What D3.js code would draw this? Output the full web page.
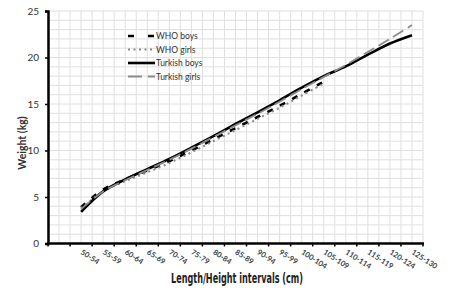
<!DOCTYPE html>
<html>
<head>
<meta charset="utf-8">
<script src="https://cdn.jsdelivr.net/npm/d3@7"></script>
<style>
  body { margin: 0; background: #fff; }
  svg { display: block; }
</style>
</head>
<body>
<svg id="chart"></svg>
<script>
var width = 450;
var height = 293;

// categories (first slot is empty, like the source chart)
var categories = ["", "50-54", "55-59", "60-64", "65-69", "70-74", "75-79", "80-84", "85-89",
  "90-94", "95-99", "100-104", "105-109", "110-114", "115-119", "120-124", "125-130"];

var whoBoys = [3.9, 5.8, 6.9, 7.85, 8.85, 10.0, 11.2, 12.4, 13.6, 14.8, 16.1, 17.4];
var whoGirls = [3.8, 5.6, 6.7, 7.65, 8.65, 9.8, 11.0, 12.2, 13.4, 14.6, 15.9, 17.2];
var turkishBoys = [3.4, 5.6, 6.9, 8.0, 9.1, 10.3, 11.55, 12.85, 14.1, 15.4, 16.75, 18.0, 19.05, 20.3, 21.5, 22.4];
var turkishGirls = [3.7, 5.6, 6.8, 7.9, 9.0, 10.2, 11.45, 12.7, 13.95, 15.25, 16.6, 17.9, 19.2, 20.6, 22.0, 23.5];

var yTicks = [0, 5, 10, 15, 20, 25];

var series = [
  { name: "WHO boys", values: whoBoys, color: "#000", width: 2.6, dash: "6,8" },
  { name: "WHO girls", values: whoGirls, color: "#8a8a8a", width: 2, dash: "2,3.5" },
  { name: "Turkish boys", values: turkishBoys, color: "#000", width: 2.6, dash: null },
  { name: "Turkish girls", values: turkishGirls, color: "#8c8c8c", width: 1.8, dash: "12,5" }
];

var svg = d3.select("#chart").attr("width", width).attr("height", height);

var x = d3.scaleBand().domain(categories).range([48, 423]).padding(0);
var y = d3.scaleLinear().domain([0, 25]).range([243.5, 11]);
var bw = x.bandwidth();

// grid
var grid = svg.append("g").attr("class", "grid");
var vx = [];
categories.forEach(function(c) { vx.push(x(c)); vx.push(x(c) + bw / 2); });
vx.push(423);
grid.selectAll(".vg").data(vx).enter().append("line")
  .attr("x1", function(d) { return d; }).attr("x2", function(d) { return d; })
  .attr("y1", y(25)).attr("y2", y(0))
  .attr("stroke", "#e0e0e0").attr("stroke-width", 1);
grid.selectAll(".hg").data(d3.range(1, 26)).enter().append("line")
  .attr("x1", 48).attr("x2", 423)
  .attr("y1", function(d) { return y(d); }).attr("y2", function(d) { return y(d); })
  .attr("stroke", "#e0e0e0").attr("stroke-width", 1);

// lines (smoothed, like the original)
var line = d3.line()
  .x(function(d, i) { return x(categories[i + 1]) + bw / 2; })
  .y(function(d) { return y(d); })
  .curve(d3.curveCatmullRom.alpha(0.5));

svg.selectAll(".series").data(series).enter().append("path")
  .attr("class", "series")
  .attr("d", function(s) { return line(s.values); })
  .attr("fill", "none")
  .attr("stroke", function(s) { return s.color; })
  .attr("stroke-width", function(s) { return s.width; })
  .attr("stroke-dasharray", function(s) { return s.dash; });

// y axis
var yAxis = svg.append("g").attr("transform", "translate(48,0)")
  .call(d3.axisLeft(y).tickValues(yTicks).tickSize(3).tickPadding(6));
yAxis.select(".domain").attr("stroke", "#000").attr("stroke-width", 2.5);
yAxis.selectAll(".tick line").attr("stroke", "#000").attr("stroke-width", 1.5);
yAxis.selectAll("text").attr("font-family", "Lato, 'Open Sans', sans-serif")
  .attr("font-size", 10).attr("fill", "#333");

// x axis (ticks at category boundaries)
var xg = svg.append("g");
xg.append("line").attr("x1", 47).attr("x2", 424).attr("y1", y(0)).attr("y2", y(0))
  .attr("stroke", "#000").attr("stroke-width", 2.5);
xg.selectAll(".xt").data(vx.filter(function(d, i) { return i % 2 === 0; })).enter().append("line")
  .attr("x1", function(d) { return d; }).attr("x2", function(d) { return d; })
  .attr("y1", y(0)).attr("y2", y(0) + 3)
  .attr("stroke", "#000").attr("stroke-width", 1.5);
xg.selectAll(".xl").data(categories.slice(1)).enter().append("text")
  .attr("transform", function(d) {
    return "translate(" + (x(d) + bw / 2 - 1) + "," + (y(0) + 10) + ") rotate(33)";
  })
  .attr("font-family", "Lato, 'Open Sans', sans-serif")
  .attr("font-size", 7.5).attr("font-weight", "bold").attr("fill", "#444")
  .text(function(d) { return d; });

// axis titles
svg.append("text").attr("x", 237).attr("y", 283).attr("text-anchor", "middle")
  .attr("font-family", "'DejaVu Sans Condensed', 'Liberation Sans Narrow', sans-serif")
  .attr("font-size", 13.5).attr("font-weight", "bold").attr("fill", "#222")
  .attr("textLength", 132).attr("lengthAdjust", "spacingAndGlyphs")
  .text("Length/Height intervals (cm)");
svg.append("text").attr("transform", "translate(26,143) rotate(-90)").attr("text-anchor", "middle")
  .attr("font-family", "Lato, 'Open Sans', sans-serif")
  .attr("font-size", 10.5).attr("font-weight", "bold").attr("fill", "#333")
  .text("Weight (kg)");

// legend
var legend = svg.append("g").selectAll(".leg").data(series).enter().append("g")
  .attr("transform", function(d, i) { return "translate(128," + (36 + i * 13.5) + ")"; });
legend.append("line").attr("x1", 0).attr("x2", 27).attr("y1", 0).attr("y2", 0)
  .attr("stroke", function(s) { return s.color; })
  .attr("stroke-width", function(s) { return s.width; })
  .attr("stroke-dasharray", function(s) { return s.name === "WHO boys" ? "6,14" : s.dash === "12,5" ? "14,6" : s.dash; });
legend.append("text").attr("x", 28).attr("y", 3)
  .attr("font-family", "Lato, 'Open Sans', sans-serif")
  .attr("font-size", 8.5).attr("fill", "#333")
  .text(function(s) { return s.name; });
</script>
</body>
</html>
